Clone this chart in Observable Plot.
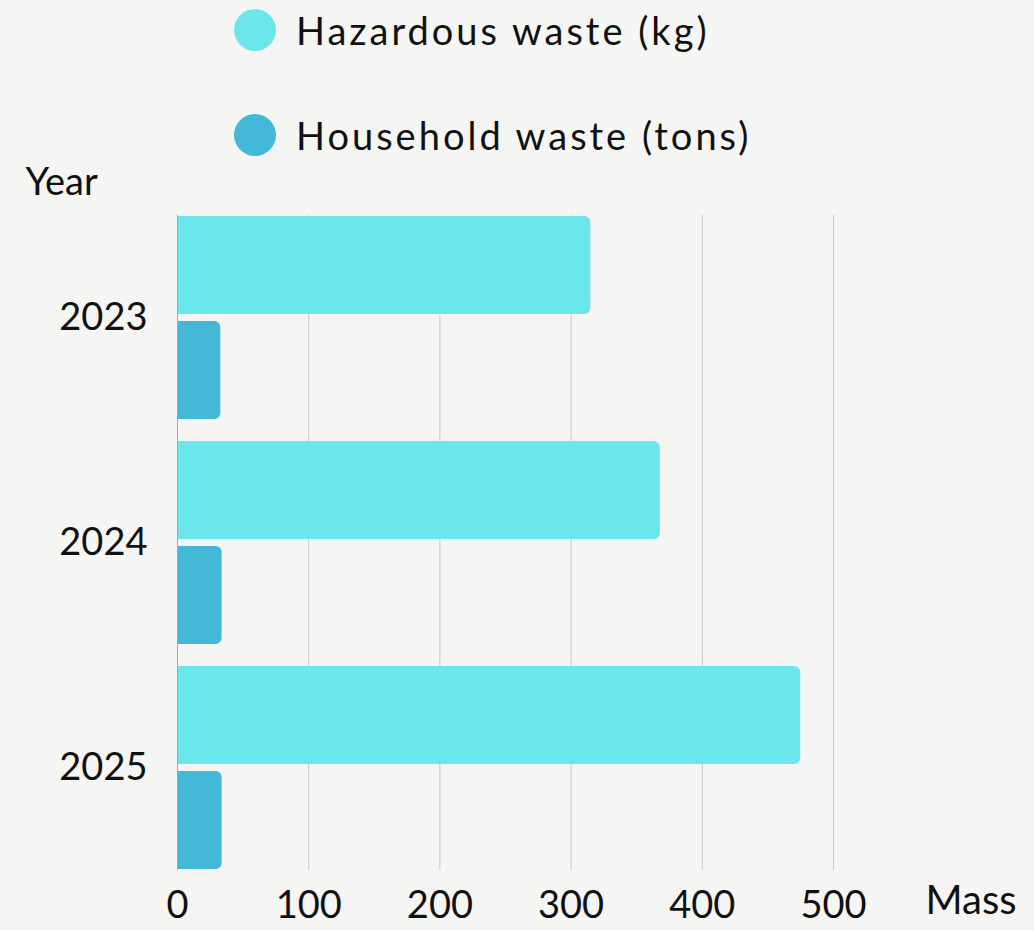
<!DOCTYPE html>
<html><head><meta charset="utf-8">
<script src="https://cdn.jsdelivr.net/npm/d3@7"></script>
<script src="https://cdn.jsdelivr.net/npm/@observablehq/plot@0.6"></script>
<style>
html,body{margin:0;padding:0;background:#f5f5f3;}
body{width:1034px;height:930px;overflow:hidden;font-family:Lato,"Open Sans",sans-serif;color:#111;}
#legend{height:165px;position:relative;}
.item{position:absolute;left:234px;display:flex;align-items:center;height:50px;font-size:38px;letter-spacing:3px;white-space:nowrap;}
.sw{width:42px;height:42px;border-radius:50%;margin-right:20px;flex:none;}
#chart svg{display:block;}
</style></head><body>
<div id="legend"></div>
<div id="chart"></div>
<script>
const years = ["2023", "2024", "2025"];
const seriesNames = ["Hazardous waste (kg)", "Household waste (tons)"];
const hazardous = [315, 368, 475];
const household = [33, 34, 34];
const colors = ["#6be6ea", "#43b8d7"];
const xTicks = [0, 100, 200, 300, 400, 500];
const yLabel = "Year";
const xLabel = "Mass";

// legend
const legend = document.getElementById("legend");
seriesNames.forEach((name, i) => {
  const item = document.createElement("div");
  item.className = "item";
  item.style.top = (i === 0 ? 5 : 110) + "px";
  const sw = document.createElement("span");
  sw.className = "sw";
  sw.style.background = colors[i];
  const t = document.createElement("span");
  t.textContent = name;
  item.appendChild(sw); item.appendChild(t);
  legend.appendChild(item);
});

const hazData = years.map((y, i) => ({year: y, value: hazardous[i]}));
const houseData = years.map((y, i) => ({year: y, value: household[i]}));

const ver = (Plot.version || "0.6.0").split(".").map(Number);
const round = (ver[1] > 6 || (ver[1] === 6 && ver[2] >= 16)) ? {rx2: 6} : {rx: 6};

const chart = Plot.plot({
  width: 1034,
  height: 765,
  marginTop: 50,
  marginBottom: 60,
  marginLeft: 177,
  marginRight: 201,
  style: {background: "transparent", fontFamily: "Lato, 'Open Sans', sans-serif", fontSize: "38px", color: "#111", overflow: "visible"},
  x: {domain: [0, 500], ticks: xTicks, tickSize: 0, tickPadding: 21, label: null},
  y: {domain: years, paddingInner: 0.1, paddingOuter: 0, tickSize: 0, tickPadding: 30, label: null},
  marks: [
    Plot.gridX(xTicks, {stroke: "#c8c8c8", strokeOpacity: 1}),
    Plot.barX(hazData, {x: "value", y: "year", fill: colors[0], insetBottom: 105, ...round}),
    Plot.barX(houseData, {x: "value", y: "year", fill: colors[1], insetTop: 105, ...round}),
    Plot.ruleX([0], {stroke: "#a8a8a8"}),
    Plot.text([yLabel], {text: d => d, frameAnchor: "top-left", dx: -152, dy: -47, textAnchor: "start", fontSize: 38, fill: "#111"}),
    Plot.text([xLabel], {text: d => d, frameAnchor: "bottom-right", dx: 92, dy: 43, textAnchor: "start", fontSize: 40, fill: "#111"})
  ]
});
document.getElementById("chart").appendChild(chart);
</script>
</body></html>
